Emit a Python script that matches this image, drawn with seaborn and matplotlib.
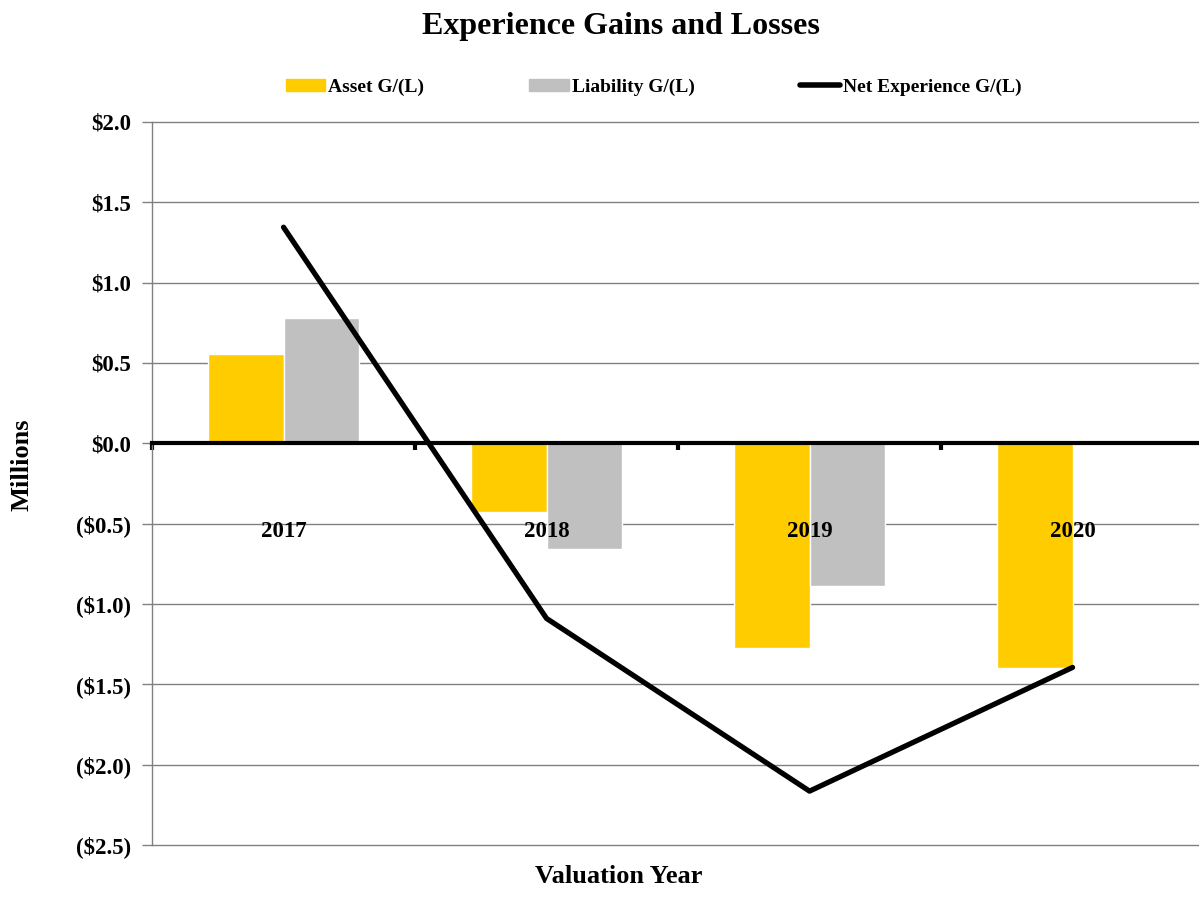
import pandas as pd
import numpy as np
import matplotlib
matplotlib.use('Agg')
import matplotlib.pyplot as plt
import seaborn as sns
from matplotlib.patches import Patch
from matplotlib.lines import Line2D

# valores (milhoes)
anos = ['2017', '2018', '2019', '2020']
ganho_ativo = [0.555, -0.43, -1.275, -1.40]
ganho_passivo = [0.78, -0.66, -0.89, 0.0]
ganho_liquido = [1.345, -1.09, -2.165, -1.395]
series = ['Asset G/(L)', 'Liability G/(L)']

base = pd.DataFrame({
    'ano': anos * 2,
    'valor': ganho_ativo + ganho_passivo,
    'serie': [series[0]] * 4 + [series[1]] * 4,
})
liq = pd.DataFrame({'ano': anos, 'valor': ganho_liquido})

sns.set_style('white')
plt.rcParams['font.family'] = ['Liberation Serif', 'DejaVu Serif']
plt.rcParams['font.weight'] = 'bold'
plt.rcParams['text.color'] = 'black'
plt.rcParams['ytick.labelcolor'] = 'black'

fig = plt.figure(figsize=(11.99, 9.01), dpi=100)
ax = fig.add_axes([0.1268, 0.0622, 0.8774, 0.8024])

ax.set_axisbelow(True)
ax.yaxis.grid(True, color='#808080', linewidth=1)

sns.barplot(data=base, x='ano', y='valor', hue='serie', hue_order=series,
            palette=['#FFCC00', '#C0C0C0'], width=0.572, saturation=1,
            ax=ax, legend=False)
sns.pointplot(data=liq, x='ano', y='valor', color='black', marker='',
              linewidth=3.8, ax=ax)

ax.set_xlim(-0.5, 3.5)
ax.set_ylim(-2.5, 2.0)
ax.set_yticks(np.arange(-2.5, 2.01, 0.5))
rotulos = []
for v in np.arange(-2.5, 2.01, 0.5):
    if v < -1e-9:
        rotulos.append('(${:.1f})'.format(-v))
    else:
        rotulos.append('${:.1f}'.format(abs(v)))
ax.set_yticklabels(rotulos, fontsize=16.5, fontweight='bold', color='black')
ax.tick_params(axis='y', left=True, length=7, color='#808080', width=1, pad=8)
# linhas de grade nas bordas sem corte
for g in ax.get_ygridlines():
    g.set_clip_on(False)

# eixo x sobre o zero com marcas entre categorias
ax.spines['bottom'].set_position(('data', 0))
ax.spines['bottom'].set_color('black')
ax.spines['bottom'].set_linewidth(3)
ax.spines['bottom'].set_zorder(5)
ax.spines['left'].set_color('#808080')
ax.spines['left'].set_linewidth(1)
ax.spines['top'].set_visible(False)
ax.spines['right'].set_visible(False)
ax.set_xticks([-0.5, 0.5, 1.5, 2.5])
ax.set_xticklabels([])
ax.tick_params(axis='x', bottom=True, direction='out', length=5, width=3, color='black')

for i, a in enumerate(anos):
    ax.text(i, -0.55, a, ha='center', va='center', fontsize=16.5,
            fontweight='bold', color='black', zorder=10)

ax.set_xlabel('')
ax.set_ylabel('')
fig.text(0.516, 0.014, 'Valuation Year', ha='center', va='bottom',
         fontsize=19, fontweight='bold', color='black')
fig.text(0.018, 0.484, 'Millions', ha='center', va='center', rotation=90,
         fontsize=19, fontweight='bold', color='black')
fig.suptitle('Experience Gains and Losses', x=0.518, y=0.987, fontsize=23,
             fontweight='bold', color='black')

handles = [Patch(color='#FFCC00'), Patch(color='#C0C0C0'),
           Line2D([0], [0], color='black', linewidth=4)]
fig.legend(handles, series + ['Net Experience G/(L)'], loc='center',
           bbox_to_anchor=(0.545, 0.903), ncol=3, frameon=False,
           prop={'size': 14, 'weight': 'bold'}, handlelength=2.05,
           handleheight=0.6, handletextpad=0.15, columnspacing=5.4)

fig.savefig('out.png', dpi=100)
